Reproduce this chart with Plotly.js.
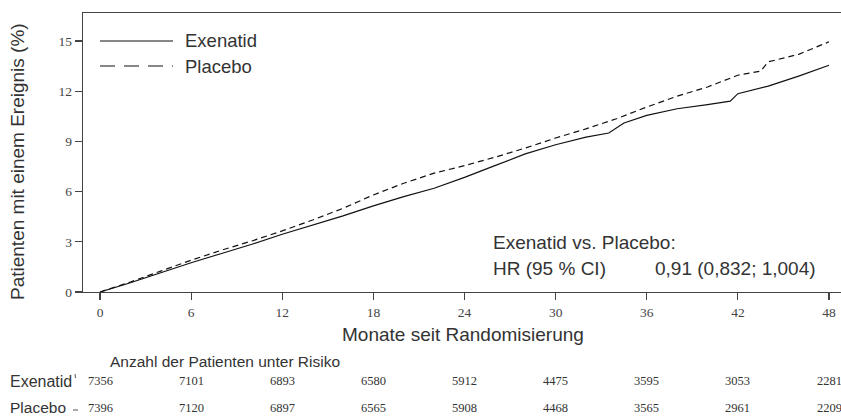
<!DOCTYPE html>
<html>
<head>
<meta charset="utf-8">
<script src="https://cdn.plot.ly/plotly-3.0.1.min.js"></script>
<style>html,body{margin:0;padding:0;background:#fff;}#chart{width:841px;height:416px;}</style>
</head>
<body>
<div id="chart"></div>
<script>
// Kaplan-Meier style cumulative incidence (%)
const exenatidMonths = [0, 2, 4, 6, 8, 10, 12, 14, 16, 18, 20, 22, 24, 26, 28, 30, 32, 33.5, 34.5, 36, 38, 40, 41.5, 42, 44, 46, 48];
const exenatidPct    = [0, 0.55, 1.15, 1.75, 2.3, 2.85, 3.45, 4.0, 4.55, 5.15, 5.7, 6.2, 6.85, 7.55, 8.25, 8.8, 9.25, 9.5, 10.1, 10.55, 10.95, 11.2, 11.4, 11.85, 12.3, 12.9, 13.55];
const placeboMonths  = [0, 2, 4, 6, 8, 10, 12, 14, 16, 18, 20, 22, 24, 26, 28, 30, 32, 34, 36, 38, 40, 42, 43.5, 44, 46, 48];
const placeboPct     = [0, 0.6, 1.25, 1.9, 2.5, 3.05, 3.65, 4.3, 5.0, 5.8, 6.5, 7.1, 7.55, 8.05, 8.6, 9.2, 9.75, 10.35, 11.05, 11.7, 12.25, 12.95, 13.2, 13.75, 14.2, 14.95];

const xTicks = [0, 6, 12, 18, 24, 30, 36, 42, 48];
const yTicks = [0, 3, 6, 9, 12, 15];
const riskMonths = [0, 6, 12, 18, 24, 30, 36, 42, 48];
const riskExenatid = [7356, 7101, 6893, 6580, 5912, 4475, 3595, 3053, 2281];
const riskPlacebo  = [7396, 7120, 6897, 6565, 5908, 4468, 3565, 2961, 2209];

const seriesNames = ['Exenatid', 'Placebo'];
const texts = {
  xTitle: 'Monate seit Randomisierung',
  yTitle: 'Patienten mit einem Ereignis (%)',
  hr1: 'Exenatid vs. Placebo:',
  hr2: 'HR (95 % CI)',
  hr3: '0,91 (0,832; 1,004)',
  riskTitle: 'Anzahl der Patienten unter Risiko',
  riskRow1: 'Exenatid',
  riskRow2: 'Placebo'
};

const sans = 'Liberation Sans, Arial, sans-serif';
const serif = 'Liberation Serif, Times New Roman, serif';
const txtColor = '#333';

const traces = [
  {x: exenatidMonths, y: exenatidPct, type: 'scatter', mode: 'lines', name: seriesNames[0],
   line: {color: '#111', width: 1.2}},
  {x: placeboMonths, y: placeboPct, type: 'scatter', mode: 'lines', name: seriesNames[1],
   line: {color: '#111', width: 1.2, dash: '6px,4px'}}
];

// paper coords helpers: plot area 83..841 px horizontally, 13..292 px vertically
const W = 758, H = 279;
const px = v => (v - 83) / W;
const py = v => (292 - v) / H;

const annotations = [];
const note = (x, y, text, size, extra) => annotations.push(Object.assign({
  xref: 'paper', yref: 'paper', x: px(x), y: py(y), text: text, showarrow: false,
  xanchor: 'left', yanchor: 'middle', font: {family: sans, size: size, color: txtColor}
}, extra || {}));

note(17, 162, texts.yTitle, 19, {textangle: -90, xanchor: 'center'});
note(183, 41, seriesNames[0], 18.5);
note(183, 66, seriesNames[1], 18.5);
note(491, 242, texts.hr1, 19);
note(491, 268, texts.hr2, 19);
note(653, 268, texts.hr3, 19);
note(463, 334, texts.xTitle, 19, {xanchor: 'center'});
note(108, 361, texts.riskTitle, 15.5);
note(8, 381, texts.riskRow1, 16);
note(8, 407, texts.riskRow2, 15.5);
riskMonths.forEach((m, i) => {
  annotations.push({xref: 'x', yref: 'paper', x: m, y: py(381), text: String(riskExenatid[i]), showarrow: false,
    xanchor: 'center', yanchor: 'middle', font: {family: serif, size: 12.5, color: txtColor}});
  annotations.push({xref: 'x', yref: 'paper', x: m, y: py(408), text: String(riskPlacebo[i]), showarrow: false,
    xanchor: 'center', yanchor: 'middle', font: {family: serif, size: 12.5, color: txtColor}});
});

const shapes = [
  {type: 'line', xref: 'paper', yref: 'paper', x0: px(100), x1: px(173), y0: py(41), y1: py(41),
   line: {color: '#111', width: 1.2}},
  {type: 'line', xref: 'paper', yref: 'paper', x0: px(100), x1: px(173), y0: py(66), y1: py(66),
   line: {color: '#111', width: 1.2, dash: '15px,9px'}},
  // small tick artefacts next to the risk-table row labels
  {type: 'line', xref: 'paper', yref: 'paper', x0: px(75), x1: px(75.5), y0: py(374), y1: py(378),
   line: {color: '#555', width: 1}},
  {type: 'line', xref: 'paper', yref: 'paper', x0: px(73), x1: px(78), y0: py(410), y1: py(410),
   line: {color: '#555', width: 1}}
];

const layout = {
  width: 841, height: 416,
  margin: {l: 83, r: 0, t: 13, b: 124},
  paper_bgcolor: '#fff', plot_bgcolor: '#fff',
  showlegend: false,
  xaxis: {
    range: [-1.12, 48.79], tickvals: xTicks, ticktext: xTicks.map(String),
    showgrid: false, zeroline: false, showline: true, linecolor: '#444', linewidth: 1.3,
    mirror: true, ticks: 'outside', ticklen: 7, tickcolor: '#444', tickwidth: 1.2,
    tickfont: {family: serif, size: 13.5, color: '#444'}
  },
  yaxis: {
    range: [0, 16.67], tickvals: yTicks, ticktext: yTicks.map(String),
    showgrid: false, zeroline: false, showline: true, linecolor: '#444', linewidth: 1.3,
    ticks: 'outside', ticklen: 7, tickcolor: '#444', tickwidth: 1.2,
    tickfont: {family: serif, size: 13.5, color: '#444'}
  },
  annotations: annotations,
  shapes: shapes
};

Plotly.newPlot('chart', traces, layout, {staticPlot: true, displayModeBar: false});
</script>
</body>
</html>
